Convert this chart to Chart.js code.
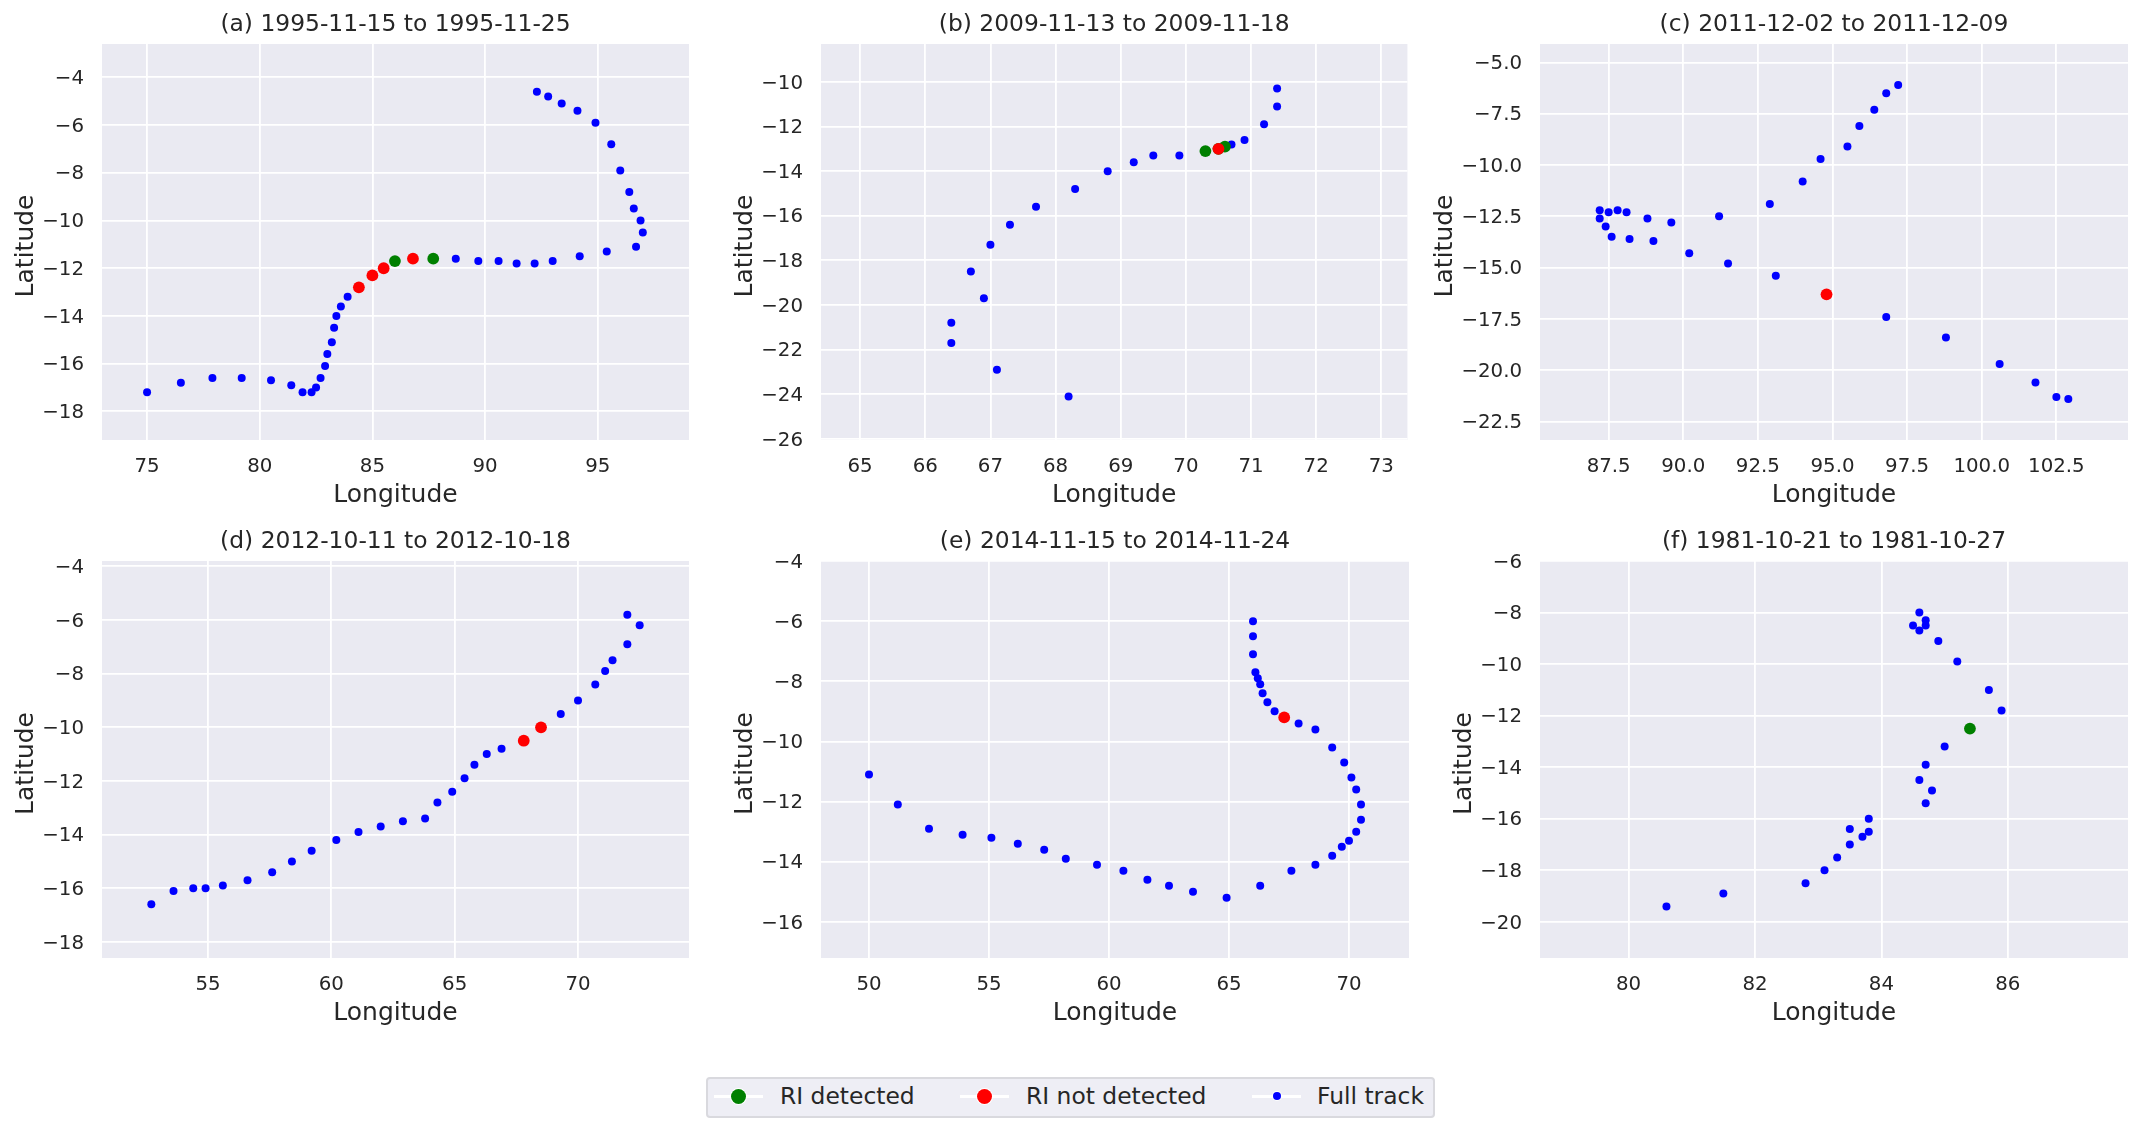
<!DOCTYPE html>
<html>
<head>
<meta charset="utf-8">
<title>RI tracks</title>
<script src="https://cdn.jsdelivr.net/npm/chart.js@4"></script>
<style>
    html, body { margin: 0; padding: 0; background: #ffffff; }
    body { position: relative; width: 2140px; height: 1130px; overflow: hidden; font-family: "DejaVu Sans", sans-serif; color: #262626; }
    canvas { position: absolute; }
    #legend { position: absolute; left: 706px; top: 1077px; width: 725px; height: 37px; background: #eeeef5; border: 2px solid #d9d9de; border-radius: 4px; }
    #legend .handle { position: absolute; top: 16px; width: 49px; height: 2.7px; background: #ffffff; }
    #legend .dot { position: absolute; border-radius: 50%; box-shadow: 0 0 0 1px #ffffff; }
    #legend .label { position: absolute; top: 3px; font-size: 23.4px; line-height: 28px; white-space: nowrap; }
</style>
</head>
<body>
<canvas id="panelA"></canvas>
<canvas id="panelB"></canvas>
<canvas id="panelC"></canvas>
<canvas id="panelD"></canvas>
<canvas id="panelE"></canvas>
<canvas id="panelF"></canvas>
<div id="legend"></div>

<script>
/* ============================
   Panel (a)
============================ */
const trackLonA = [92.3, 92.8, 93.4, 94.1, 94.9, 95.6, 96.0, 96.4, 96.6, 96.9, 97.0, 96.7, 95.4, 94.2, 93.0, 92.2, 91.4, 90.6, 89.7, 88.7, 87.7, 86.8, 86.0, 85.5, 85.0, 84.4, 83.9, 83.6, 83.4, 83.3, 83.2, 83.0, 82.9, 82.7, 82.5, 82.3, 81.9, 81.4, 80.5, 79.2, 77.9, 76.5, 75.0];
const trackLatA = [-4.6, -4.8, -5.1, -5.4, -5.9, -6.8, -7.9, -8.8, -9.5, -10.0, -10.5, -11.1, -11.3, -11.5, -11.7, -11.8, -11.8, -11.7, -11.7, -11.6, -11.6, -11.6, -11.7, -12.0, -12.3, -12.8, -13.2, -13.6, -14.0, -14.5, -15.1, -15.6, -16.1, -16.6, -17.0, -17.2, -17.2, -16.9, -16.7, -16.6, -16.6, -16.8, -17.2];
const detectedLonA = [87.7, 86.0];
const detectedLatA = [-11.6, -11.7];
const missedLonA = [86.8, 85.5, 85.0, 84.4];
const missedLatA = [-11.6, -12.0, -12.3, -12.8];
const xTicksA = [75, 80, 85, 90, 95];
const yTicksA = [-4, -6, -8, -10, -12, -14, -16, -18];

/* ============================
   Panel (b)
============================ */
const trackLonB = [71.4, 71.4, 71.2, 70.9, 70.7, 70.6, 70.5, 70.3, 69.9, 69.5, 69.2, 68.8, 68.3, 67.7, 67.3, 67.0, 66.7, 66.9, 66.4, 66.4, 67.1, 68.2];
const trackLatB = [-10.3, -11.1, -11.9, -12.6, -12.8, -12.9, -13.0, -13.1, -13.3, -13.3, -13.6, -14.0, -14.8, -15.6, -16.4, -17.3, -18.5, -19.7, -20.8, -21.7, -22.9, -24.1];
const detectedLonB = [70.6, 70.5, 70.3];
const detectedLatB = [-12.9, -13.0, -13.1];
const missedLonB = [70.5];
const missedLatB = [-13.0];
const xTicksB = [65, 66, 67, 68, 69, 70, 71, 72, 73];
const yTicksB = [-10, -12, -14, -16, -18, -20, -22, -24, -26];

/* ============================
   Panel (c)
============================ */
const trackLonC = [97.2, 96.8, 96.4, 95.9, 95.5, 94.6, 94.0, 92.9, 91.2, 89.6, 88.8, 88.1, 87.8, 87.5, 87.2, 87.2, 87.4, 87.6, 88.2, 89.0, 90.2, 91.5, 93.1, 94.8, 96.8, 98.8, 100.6, 101.8, 102.5, 102.9];
const trackLatC = [-6.1, -6.5, -7.3, -8.1, -9.1, -9.7, -10.8, -11.9, -12.5, -12.8, -12.6, -12.3, -12.2, -12.3, -12.2, -12.6, -13.0, -13.5, -13.6, -13.7, -14.3, -14.8, -15.4, -16.3, -17.4, -18.4, -19.7, -20.6, -21.3, -21.4];
const detectedLonC = [];
const detectedLatC = [];
const missedLonC = [94.8];
const missedLatC = [-16.3];
const xTicksC = [87.5, 90, 92.5, 95, 97.5, 100, 102.5];
const yTicksC = [-5, -7.5, -10, -12.5, -15, -17.5, -20, -22.5];

/* ============================
   Panel (d)
============================ */
const trackLonD = [72.0, 72.5, 72.0, 71.4, 71.1, 70.7, 70.0, 69.3, 68.5, 67.8, 66.9, 66.3, 65.8, 65.4, 64.9, 64.3, 63.8, 62.9, 62.0, 61.1, 60.2, 59.2, 58.4, 57.6, 56.6, 55.6, 54.9, 54.4, 53.6, 52.7];
const trackLatD = [-5.8, -6.2, -6.9, -7.5, -7.9, -8.4, -9.0, -9.5, -10.0, -10.5, -10.8, -11.0, -11.4, -11.9, -12.4, -12.8, -13.4, -13.5, -13.7, -13.9, -14.2, -14.6, -15.0, -15.4, -15.7, -15.9, -16.0, -16.0, -16.1, -16.6];
const detectedLonD = [];
const detectedLatD = [];
const missedLonD = [68.5, 67.8];
const missedLatD = [-10.0, -10.5];
const xTicksD = [55, 60, 65, 70];
const yTicksD = [-4, -6, -8, -10, -12, -14, -16, -18];

/* ============================
   Panel (e)
============================ */
const trackLonE = [66.0, 66.0, 66.0, 66.1, 66.2, 66.3, 66.4, 66.6, 66.9, 67.3, 67.9, 68.6, 69.3, 69.8, 70.1, 70.3, 70.5, 70.5, 70.3, 70.0, 69.7, 69.3, 68.6, 67.6, 66.3, 64.9, 63.5, 62.5, 61.6, 60.6, 59.5, 58.2, 57.3, 56.2, 55.1, 53.9, 52.5, 51.2, 50.0];
const trackLatE = [-6.0, -6.5, -7.1, -7.7, -7.9, -8.1, -8.4, -8.7, -9.0, -9.2, -9.4, -9.6, -10.2, -10.7, -11.2, -11.6, -12.1, -12.6, -13.0, -13.3, -13.5, -13.8, -14.1, -14.3, -14.8, -15.2, -15.0, -14.8, -14.6, -14.3, -14.1, -13.9, -13.6, -13.4, -13.2, -13.1, -12.9, -12.1, -11.1];
const detectedLonE = [];
const detectedLatE = [];
const missedLonE = [67.3];
const missedLatE = [-9.2];
const xTicksE = [50, 55, 60, 65, 70];
const yTicksE = [-4, -6, -8, -10, -12, -14, -16];

/* ============================
   Panel (f)
============================ */
const trackLonF = [84.6, 84.7, 84.7, 84.5, 84.6, 84.9, 85.2, 85.7, 85.9, 85.4, 85.0, 84.7, 84.6, 84.8, 84.7, 83.8, 83.5, 83.8, 83.7, 83.5, 83.3, 83.1, 82.8, 81.5, 80.6];
const trackLatF = [-8.0, -8.3, -8.5, -8.5, -8.7, -9.1, -9.9, -11.0, -11.8, -12.5, -13.2, -13.9, -14.5, -14.9, -15.4, -16.0, -16.4, -16.5, -16.7, -17.0, -17.5, -18.0, -18.5, -18.9, -19.4];
const detectedLonF = [85.4];
const detectedLatF = [-12.5];
const missedLonF = [];
const missedLatF = [];
const xTicksF = [80, 82, 84, 86];
const yTicksF = [-6, -8, -10, -12, -14, -16, -18, -20];

/* ============================
   Colors and sizes
============================ */
const COLOR_DETECTED = '#008000';
const COLOR_MISSED = '#ff0000';
const COLOR_TRACK = '#0000ff';
const COLOR_TEXT = '#262626';
const COLOR_PLOT = '#eaeaf2';

const columns = [
    { left: 102, right: 689 },
    { left: 821, right: 1409 },
    { left: 1540, right: 2128 }
];
const rows = [
    { top: 44, bottom: 440 },
    { top: 561, bottom: 958 }
];

const TITLE_SPACE = 40;
const XAXIS_SPACE = 70;

/* ============================
   Panel list
============================ */
const panels = [
    { id: 'panelA', col: 0, row: 0, gutter: 91, title: '(a) 1995-11-15 to 1995-11-25', xRange: [73, 99.05], yRange: [-19.2, -2.6], xTicks: xTicksA, yTicks: yTicksA, decimals: 0, track: [trackLonA, trackLatA], detected: [detectedLonA, detectedLatA], missed: [missedLonA, missedLatA] },
    { id: 'panelB', col: 1, row: 0, gutter: 91, title: '(b) 2009-11-13 to 2009-11-18', xRange: [64.4, 73.4], yRange: [-26.05, -8.3], xTicks: xTicksB, yTicks: yTicksB, decimals: 0, track: [trackLonB, trackLatB], detected: [detectedLonB, detectedLatB], missed: [missedLonB, missedLatB] },
    { id: 'panelC', col: 2, row: 0, gutter: 110, title: '(c) 2011-12-02 to 2011-12-09', xRange: [85.2, 104.9], yRange: [-23.4, -4.1], xTicks: xTicksC, yTicks: yTicksC, decimals: 1, track: [trackLonC, trackLatC], detected: [detectedLonC, detectedLatC], missed: [missedLonC, missedLatC] },
    { id: 'panelD', col: 0, row: 1, gutter: 91, title: '(d) 2012-10-11 to 2012-10-18', xRange: [50.7, 74.5], yRange: [-18.6, -3.8], xTicks: xTicksD, yTicks: yTicksD, decimals: 0, track: [trackLonD, trackLatD], detected: [detectedLonD, detectedLatD], missed: [missedLonD, missedLatD] },
    { id: 'panelE', col: 1, row: 1, gutter: 91, title: '(e) 2014-11-15 to 2014-11-24', xRange: [48, 72.5], yRange: [-17.2, -4], xTicks: xTicksE, yTicks: yTicksE, decimals: 0, track: [trackLonE, trackLatE], detected: [detectedLonE, detectedLatE], missed: [missedLonE, missedLatE] },
    { id: 'panelF', col: 2, row: 1, gutter: 91, title: '(f) 1981-10-21 to 1981-10-27', xRange: [78.6, 87.9], yRange: [-21.4, -6], xTicks: xTicksF, yTicks: yTicksF, decimals: 0, track: [trackLonF, trackLatF], detected: [detectedLonF, detectedLatF], missed: [missedLonF, missedLatF] }
];

/* ============================
   Helpers
============================ */
const toPoints = ([lons, lats]) => lons.map((lon, i) => ({ x: lon, y: lats[i] }));

const formatTick = (value, decimals) => value.toFixed(decimals).replace('-', '\u2212');

// grey plot background behind the grid
const plotBackground = {
    id: 'plotBackground',
    beforeDraw(chart) {
        const { ctx, chartArea } = chart;
        ctx.save();
        ctx.fillStyle = COLOR_PLOT;
        ctx.fillRect(chartArea.left, chartArea.top, chartArea.right - chartArea.left, chartArea.bottom - chartArea.top);
        ctx.restore();
    }
};

function axisOptions(range, tickValues, decimals, label, afterFit) {
    return {
        type: 'linear',
        min: range[0],
        max: range[1],
        border: { display: false },
        grid: { color: '#ffffff', lineWidth: 1.8, drawTicks: false },
        ticks: {
            color: COLOR_TEXT,
            font: { size: 19.8 },
            maxRotation: 0,
            autoSkip: false,
            callback: value => formatTick(value, decimals)
        },
        title: { display: true, text: label, color: COLOR_TEXT, font: { size: 25 }, padding: 0 },
        afterBuildTicks: scale => { scale.ticks = tickValues.map(value => ({ value })); },
        afterFit
    };
}

/* ============================
   Build the six charts
============================ */
Chart.defaults.font.family = '"DejaVu Sans", sans-serif';

panels.forEach(panel => {
    const column = columns[panel.col];
    const row = rows[panel.row];
    const canvas = document.getElementById(panel.id);

    const canvasLeft = column.left - panel.gutter;
    const canvasTop = row.top - TITLE_SPACE;
    const width = column.right - canvasLeft;
    const height = row.bottom + XAXIS_SPACE - canvasTop;

    canvas.style.left = canvasLeft + 'px';
    canvas.style.top = canvasTop + 'px';
    canvas.width = width;
    canvas.height = height;
    canvas.style.width = width + 'px';
    canvas.style.height = height + 'px';

    const xAxis = axisOptions(panel.xRange, panel.xTicks, panel.decimals, 'Longitude', scale => { scale.height = XAXIS_SPACE; });
    xAxis.ticks.padding = 15;

    // trailing space: the label sits a little below the middle of the axis
    const yAxis = axisOptions(panel.yRange, panel.yTicks, panel.decimals, 'Latitude ', scale => { scale.width = panel.gutter; });
    yAxis.ticks.padding = 18;
    yAxis.ticks.labelOffset = 1.5;

    new Chart(canvas.getContext('2d'), {
        type: 'scatter',
        data: {
            datasets: [
                { label: 'RI not detected', data: toPoints(panel.missed), backgroundColor: COLOR_MISSED, pointRadius: 5.9, pointBorderWidth: 0 },
                { label: 'RI detected', data: toPoints(panel.detected), backgroundColor: COLOR_DETECTED, pointRadius: 5.9, pointBorderWidth: 0 },
                { label: 'Full track', data: toPoints(panel.track), backgroundColor: COLOR_TRACK, pointRadius: 4, pointBorderWidth: 0 }
            ]
        },
        options: {
            responsive: false,
            animation: false,
            layout: { padding: 0, autoPadding: false },
            scales: { x: xAxis, y: yAxis },
            plugins: {
                legend: { display: false },
                tooltip: { enabled: false },
                title: {
                    display: true,
                    text: panel.title,
                    fullSize: false,
                    color: COLOR_TEXT,
                    font: { size: 23.4, weight: 'normal' },
                    padding: { top: 7, bottom: 4.9 }
                }
            }
        },
        plugins: [plotBackground]
    });
});

/* ============================
   Shared legend
============================ */
const legendEntries = [
    { text: 'RI detected', color: COLOR_DETECTED, handle: 6.3, size: 15, textLeft: 72 },
    { text: 'RI not detected', color: COLOR_MISSED, handle: 252.3, size: 15, textLeft: 318 },
    { text: 'Full track', color: COLOR_TRACK, handle: 544.3, size: 8, textLeft: 609 }
];

const legend = document.getElementById('legend');
legendEntries.forEach(entry => {
    const handle = document.createElement('div');
    handle.className = 'handle';
    handle.style.left = entry.handle + 'px';
    legend.appendChild(handle);

    const dot = document.createElement('div');
    dot.className = 'dot';
    dot.style.background = entry.color;
    dot.style.width = entry.size + 'px';
    dot.style.height = entry.size + 'px';
    dot.style.left = (entry.handle + 24.5 - entry.size / 2) + 'px';
    dot.style.top = (17.3 - entry.size / 2) + 'px';
    legend.appendChild(dot);

    const label = document.createElement('div');
    label.className = 'label';
    label.textContent = entry.text;
    label.style.left = entry.textLeft + 'px';
    legend.appendChild(label);
});
</script>
</body>
</html>
